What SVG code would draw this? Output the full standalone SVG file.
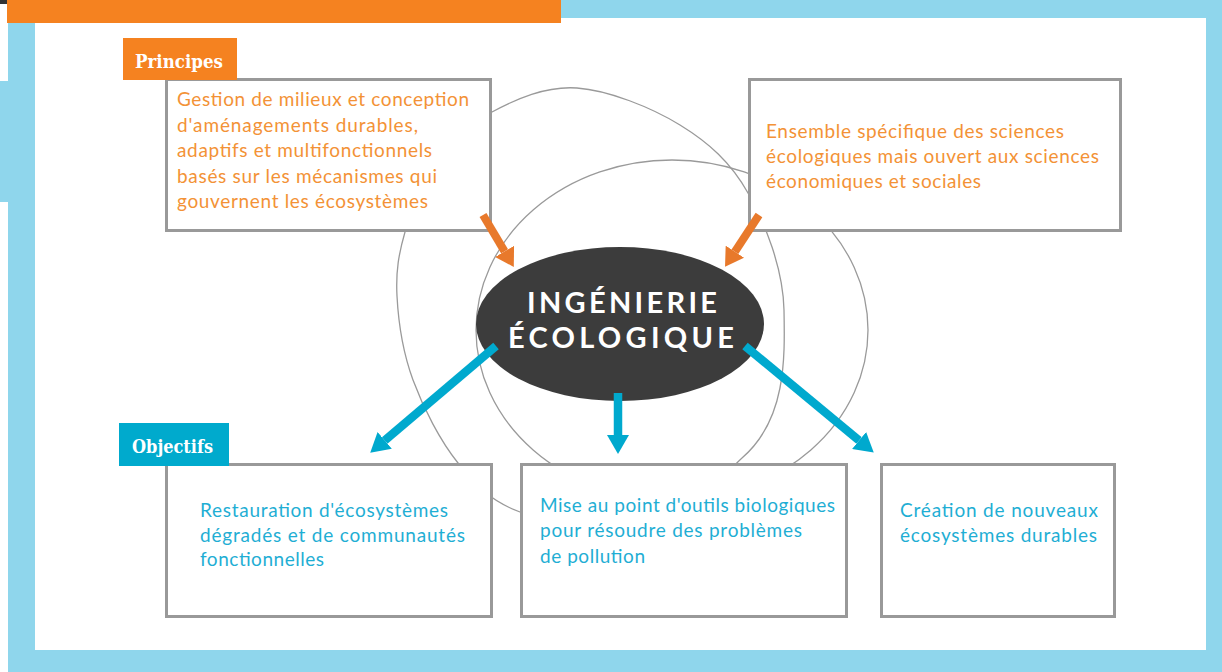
<svg xmlns="http://www.w3.org/2000/svg" width="1222" height="672" viewBox="0 0 1222 672">
<defs>
<style>
.frame{fill:#8FD6EC}
.box{fill:#fff;stroke:#999999;stroke-width:3}
.ring{fill:none;stroke:#9a9a9a;stroke-width:1.3}
.otxt{font-family:Lato,"Liberation Sans",sans-serif;font-size:19px;fill:#F39236}
.btxt{font-family:Lato,"Liberation Sans",sans-serif;font-size:19px;fill:#1FAED4}
.lab{font-family:"DejaVu Serif","Liberation Serif",serif;font-weight:bold;font-size:19px;fill:#fff}
.title{font-family:Lato,"Liberation Sans",sans-serif;font-weight:bold;font-size:29px;fill:#fff}
.oarr{stroke:#E8792B;stroke-width:8;fill:none}
.barr{stroke:#00A9CE;stroke-width:8.5;fill:none}
</style>
<marker id="ho" markerUnits="userSpaceOnUse" markerWidth="18" markerHeight="22" refX="0" refY="11" orient="auto" viewBox="0 0 18 22">
<path d="M0,0 L18,11 L0,22 z" fill="#E8792B"/>
</marker>
<marker id="hb" markerUnits="userSpaceOnUse" markerWidth="19" markerHeight="22" refX="0" refY="11" orient="auto" viewBox="0 0 19 22">
<path d="M0,0 L19,11 L0,22 z" fill="#00A9CE"/>
</marker>
</defs>
<rect width="1222" height="672" fill="#fff"/>
<rect class="frame" x="8" y="0" width="1214" height="672"/>
<rect class="frame" x="0" y="81" width="9" height="121"/>
<rect x="35" y="18" width="1171" height="632" fill="#fff"/>
<rect x="7" y="0" width="554" height="23" fill="#F58220"/>
<rect x="0" y="0" width="7" height="4" fill="#333"/>

<g id="rings">
<path class="ring" d="M577,88 C608.3,90.2 651.5,107.5 680,125 C708.5,142.5 730.7,162.2 748,193 C765.3,223.8 783,268 784,310 C785,360 786,420 742,458 C720,478 690,522 640,530 C600,536 550.3,523.2 520,512 C489.7,500.8 475.8,485 458,463 C440.2,441 423.2,407.8 413,380 C402.8,352.2 398.3,320.7 397,296 C395.7,271.3 398.7,253.8 405,232 C411.3,210.2 420.5,185 435,165 C449.5,145 468.3,124.8 492,112 C515.7,99.2 545.7,85.8 577,88 Z"/>
<ellipse class="ring" cx="672" cy="330" rx="196" ry="170"/>
</g>

<g id="principe1">
<rect class="box" x="166.5" y="79.5" width="324" height="151"/>
<text class="otxt" x="177" y="106" textLength="292">Gestion de milieux et conception</text>
<text class="otxt" x="177" y="132" textLength="241">d'aménagements durables,</text>
<text class="otxt" x="177" y="157" textLength="255">adaptifs et multifonctionnels</text>
<text class="otxt" x="177" y="183" textLength="260">basés sur les mécanismes qui</text>
<text class="otxt" x="177" y="208" textLength="251">gouvernent les écosystèmes</text>
</g>

<g id="principes-label">
<rect x="123" y="38" width="114" height="42" fill="#F58220"/>
<text class="lab" x="135" y="68" textLength="88" lengthAdjust="spacingAndGlyphs">Principes</text>
</g>

<g id="principe2">
<rect class="box" x="749.5" y="79.5" width="371" height="151"/>
<text class="otxt" x="766" y="138" textLength="298">Ensemble spécifique des sciences</text>
<text class="otxt" x="766" y="163" textLength="333">écologiques mais ouvert aux sciences</text>
<text class="otxt" x="766" y="188" textLength="215">économiques et sociales</text>
</g>

<g id="centre">
<ellipse cx="620" cy="324" rx="144" ry="77" fill="#3C3C3C"/>
<text class="title" x="527" y="313" textLength="190">INGÉNIERIE</text>
<text class="title" x="508" y="348" textLength="226">ÉCOLOGIQUE</text>
</g>

<g id="objectif1">
<rect class="box" x="166.5" y="464.5" width="325" height="152"/>
<text class="btxt" x="200" y="517" textLength="248">Restauration d'écosystèmes</text>
<text class="btxt" x="200" y="542" textLength="265">dégradés et de communautés</text>
<text class="btxt" x="200" y="566" textLength="124">fonctionnelles</text>
</g>

<g id="objectifs-label">
<rect x="119" y="423" width="110" height="43" fill="#00AACD"/>
<text class="lab" x="132" y="453" textLength="81" lengthAdjust="spacingAndGlyphs">Objectifs</text>
</g>

<g id="objectif2">
<rect class="box" x="521.5" y="464.5" width="325" height="152"/>
<text class="btxt" x="540" y="512" textLength="295">Mise au point d'outils biologiques</text>
<text class="btxt" x="540" y="537" textLength="262">pour résoudre des problèmes</text>
<text class="btxt" x="540" y="563" textLength="105">de pollution</text>
</g>

<g id="objectif3">
<rect class="box" x="881.5" y="464.5" width="233" height="152"/>
<text class="btxt" x="900" y="517" textLength="198">Création de nouveaux</text>
<text class="btxt" x="900" y="542" textLength="197">écosystèmes durables</text>
</g>

<g id="connectors">
<line class="oarr" x1="483" y1="215" x2="504.6" y2="251.4" marker-end="url(#ho)"/>
<line class="oarr" x1="759" y1="215" x2="734.9" y2="251.7" marker-end="url(#ho)"/>
<line class="barr" x1="496" y1="346" x2="384.7" y2="440.4" marker-end="url(#hb)"/>
<line class="barr" x1="618" y1="393" x2="618" y2="435" marker-end="url(#hb)"/>
<line class="barr" x1="745" y1="346" x2="859.1" y2="440.5" marker-end="url(#hb)"/>
</g>
</svg>
